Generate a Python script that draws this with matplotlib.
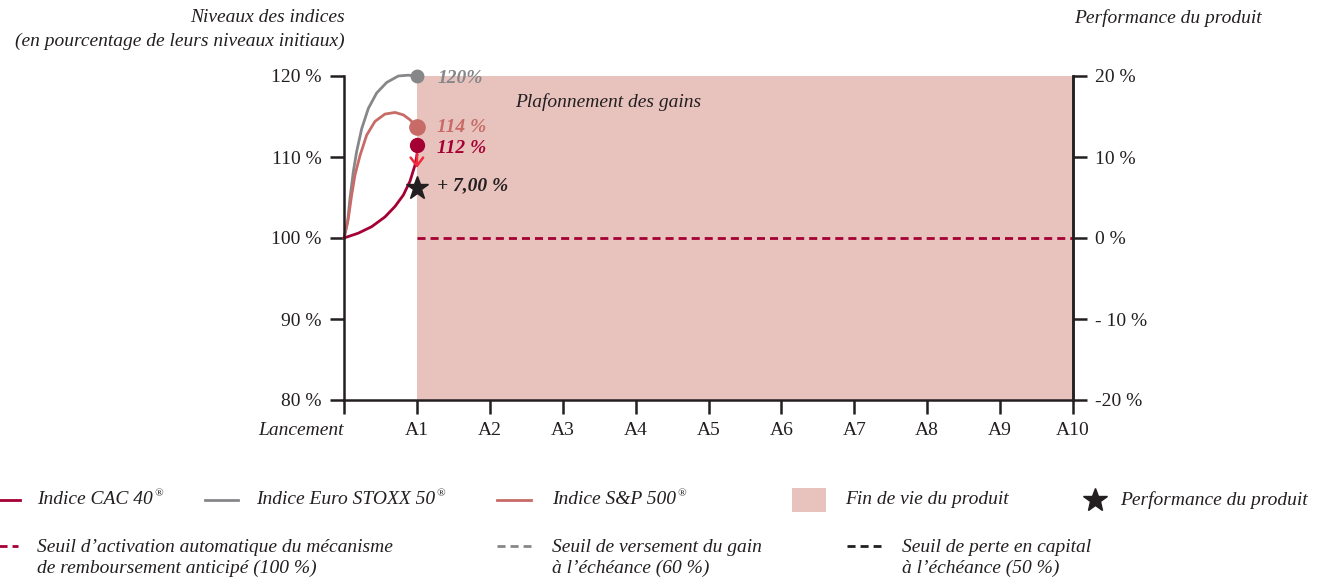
import matplotlib.pyplot as plt
from matplotlib.lines import Line2D
from matplotlib.patches import Rectangle

plt.rcParams['font.family'] = ['Liberation Serif', 'DejaVu Serif']

# curves (x in years, y in % of initial level)
cac_x = [0, 0.197, 0.38, 0.562, 0.70, 0.814, 0.905, 0.974, 1.0]
cac_y = [100, 100.6, 101.4, 102.6, 103.9, 105.3, 107.0, 109.0, 110.2]
stoxx_x = [0, 0.05, 0.082, 0.128, 0.174, 0.243, 0.334, 0.448, 0.585, 0.745, 0.88, 1.0]
stoxx_y = [100, 102.0, 104.9, 108.2, 110.7, 113.5, 116.0, 117.9, 119.2, 120.0, 120.1, 120]
sp_x = [0, 0.059, 0.105, 0.151, 0.22, 0.311, 0.425, 0.562, 0.70, 0.814, 0.905, 1.0]
sp_y = [100, 102.4, 105.3, 107.8, 110.2, 112.7, 114.4, 115.3, 115.5, 115.2, 114.6, 113.7]

end_cac, end_stoxx, end_sp = 111.5, 120, 113.7
star_y = 106.2
perf_label = "+ 7,00 %"

xticks = list(range(11))
xlabels = ["Lancement"] + [f"A{i}" for i in range(1, 11)]
yticks = [80, 90, 100, 110, 120]
ylabels = ["80 %", "90 %", "100 %", "110 %", "120 %"]
rticks = [-20, -10, 0, 10, 20]
rlabels = ["-20 %", "- 10 %", "0 %", "10 %", "20 %"]

c_cac = "#a50034"
c_stoxx = "#87878a"
c_sp = "#c86b67"
c_fill = "#e8c3bd"
c_dark = "#231f20"
c_arrow = "#ef2a3c"
dash = (0, (2.9, 1.8))

fig = plt.figure(figsize=(13.25, 5.79), dpi=100)
ax = fig.add_axes([344 / 1325, 1 - 400 / 579, 729 / 1325, 324 / 579])
ax.set_xlim(0, 10)
ax.set_ylim(80, 120)

ax.add_patch(Rectangle((1, 80), 9, 40, color=c_fill, lw=0, zorder=0))
ax.plot([1, 10], [100, 100], color=c_cac, lw=2, ls=dash, zorder=1)

ax.plot(stoxx_x, stoxx_y, color=c_stoxx, lw=2, clip_on=False, solid_joinstyle='round')
ax.plot(sp_x, sp_y, color=c_sp, lw=2, clip_on=False, solid_joinstyle='round')
ax.plot(cac_x, cac_y, color=c_cac, lw=2, clip_on=False, solid_joinstyle='round')
ax.plot([1], [end_stoxx], 'o', color=c_stoxx, ms=9, clip_on=False, zorder=5)
ax.plot([1], [end_sp], 'o', color=c_sp, ms=11, clip_on=False, zorder=5)
ax.plot([1], [end_cac], 'o', color=c_cac, ms=10, clip_on=False, zorder=5)
ax.annotate("", xy=(1, 108.3), xytext=(1, 110.8),
            arrowprops=dict(arrowstyle="->,head_width=0.45,head_length=0.6", color=c_arrow, lw=1.8))
ax.plot([1], [star_y], '*', color=c_dark, ms=17, zorder=6)

ax.text(1.28, end_stoxx - 0.3, "120%", color=c_stoxx, style='italic', fontweight='semibold', fontsize=14, va='center')
ax.text(1.28, end_sp, "114 %", color=c_sp, style='italic', fontweight='semibold', fontsize=14, va='center')
ax.text(1.28, end_cac - 0.4, "112 %", color=c_cac, style='italic', fontweight='bold', fontsize=14, va='center')
ax.text(1.28, star_y + 0.2, perf_label, color=c_dark, style='italic', fontweight='bold', fontsize=14, va='center')
ax.text(2.35, 116.8, "Plafonnement des gains", color=c_dark, style='italic', fontsize=14, va='center')

ax.spines["top"].set_visible(False)
for s in ["left", "bottom", "right"]:
    ax.spines[s].set_color(c_dark)
    ax.spines[s].set_linewidth(1.8)
ax.tick_params(direction='out', length=10, width=1.8, color=c_dark, labelsize=14, labelcolor=c_dark, pad=6)
ax.set_xticks(xticks)
ax.set_xticklabels(xlabels)
ax.get_xticklabels()[0].set_style('italic')
ax.get_xticklabels()[0].set_horizontalalignment('right')
ax.set_yticks(yticks)
ax.set_yticklabels(ylabels)

ax2 = ax.twinx()
ax2.set_ylim(-20, 20)
ax2.set_yticks(rticks)
ax2.set_yticklabels(rlabels)
for s in ["top", "left", "bottom"]:
    ax2.spines[s].set_visible(False)
ax2.spines["right"].set_color(c_dark)
ax2.spines["right"].set_linewidth(1.8)
ax2.tick_params(direction='out', length=10, width=1.8, color=c_dark, labelsize=14, labelcolor=c_dark, pad=6)

fig.text(345 / 1325, 1 - 18 / 579, "Niveaux des indices", ha='right', va='center', style='italic', fontsize=14, color=c_dark)
fig.text(345 / 1325, 1 - 41 / 579, "(en pourcentage de leurs niveaux initiaux)", ha='right', va='center', style='italic', fontsize=14, color=c_dark)
fig.text(1262 / 1325, 1 - 18 / 579, "Performance du produit", ha='right', va='center', style='italic', fontsize=14, color=c_dark)

# legend, drawn by hand in figure pixels
W, H = 1325, 579
def leg_line(x0, x1, y, color, ls='-'):
    fig.add_artist(Line2D([x0 / W, x1 / W], [1 - y / H, 1 - y / H], color=color, lw=2, ls=ls))

def leg_text(x, y, s, reg=False):
    t = fig.text(x / W, 1 - y / H, s, style='italic', fontsize=14, color=c_dark, va='center', linespacing=1.35)
    if reg:
        fig.canvas.draw()
        bb = t.get_window_extent()
        fig.text(bb.x1 / W + 0.001, 1 - (y - 6) / H, "®", style='italic', fontsize=8, color=c_dark, va='center')

leg_line(-5, 20, 500, c_cac)
leg_text(37, 500, "Indice CAC 40", reg=True)
leg_line(205, 238, 500, c_stoxx)
leg_text(256, 500, "Indice Euro STOXX 50", reg=True)
leg_line(497, 531, 500, c_sp)
leg_text(552, 500, "Indice S&P 500", reg=True)
fig.add_artist(Rectangle((792 / W, 1 - 512 / H), 34 / W, 24 / H, color=c_fill, lw=0))
leg_text(845, 500, "Fin de vie du produit")
fig.add_artist(Line2D([1095 / W], [1 - 500 / H], marker='*', ms=18, color=c_dark, lw=0))
leg_text(1120, 500, "Performance du produit")

leg_line(-3, 18, 546, c_cac, ls=dash)
leg_text(37, 558, "Seuil d’activation automatique du mécanisme\nde remboursement anticipé (100 %)")
leg_line(497, 531, 546, c_stoxx, ls=dash)
leg_text(552, 558, "Seuil de versement du gain\nà l’échéance (60 %)")
leg_line(847, 881, 546, c_dark, ls=dash)
leg_text(902, 558, "Seuil de perte en capital\nà l’échéance (50 %)")

fig.savefig("out.png", dpi=100)
